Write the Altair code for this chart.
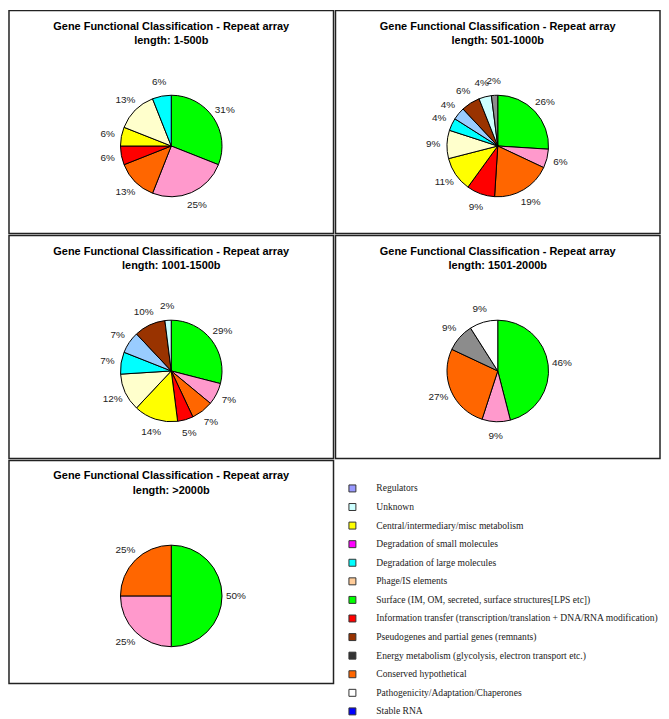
import altair as alt
import pandas as pd

# Slice categories and their pie colours
categories = ["Surface", "Degradation of small molecules", "Conserved hypothetical",
              "Information transfer", "Central metabolism", "Phage/IS elements",
              "Degradation of large molecules", "Regulators", "Pseudogenes",
              "Unknown", "Energy metabolism", "Pathogenicity"]
slice_colors = ["#00FF00", "#FF99CC", "#FF6600", "#FF0000", "#FFFF00", "#FFFFCC",
                "#00FFFF", "#99CCFF", "#993300", "#CCFFFF", "#8C8C8C", "#FFFFFF"]

title_line = "Gene Functional Classification - Repeat array"

p1_title = "length: 1-500b"
p1_cats = ["Surface", "Degradation of small molecules", "Conserved hypothetical",
           "Information transfer", "Central metabolism", "Phage/IS elements",
           "Degradation of large molecules"]
p1_vals = [31, 25, 13, 6, 6, 13, 6]

p2_title = "length: 501-1000b"
p2_cats = ["Surface", "Degradation of small molecules", "Conserved hypothetical",
           "Information transfer", "Central metabolism", "Phage/IS elements",
           "Degradation of large molecules", "Regulators", "Pseudogenes",
           "Unknown", "Energy metabolism"]
p2_vals = [26, 6, 19, 9, 11, 9, 4, 4, 6, 4, 2]

p3_title = "length: 1001-1500b"
p3_cats = ["Surface", "Degradation of small molecules", "Conserved hypothetical",
           "Information transfer", "Central metabolism", "Phage/IS elements",
           "Degradation of large molecules", "Regulators", "Pseudogenes", "Unknown"]
p3_vals = [29, 7, 7, 5, 14, 12, 7, 7, 10, 2]

p4_title = "length: 1501-2000b"
p4_cats = ["Surface", "Degradation of small molecules", "Conserved hypothetical",
           "Energy metabolism", "Pathogenicity"]
p4_vals = [46, 9, 27, 9, 9]

p5_title = "length: >2000b"
p5_cats = ["Surface", "Degradation of small molecules", "Conserved hypothetical"]
p5_vals = [50, 25, 25]

legend_labels = ["Regulators", "Unknown", "Central/intermediary/misc metabolism",
                 "Degradation of small molecules", "Degradation of large molecules",
                 "Phage/IS elements",
                 "Surface (IM, OM, secreted, surface structures[LPS etc])",
                 "Information transfer (transcription/translation + DNA/RNA modification)",
                 "Pseudogenes and partial genes (remnants)",
                 "Energy metabolism (glycolysis, electron transport etc.)",
                 "Conserved  hypothetical",
                 "Pathogenicity/Adaptation/Chaperones", "Stable RNA"]
legend_colors = ["#9999FF", "#CCFFFF", "#FFFF00", "#FF00FF", "#00FFFF", "#FFCC99",
                 "#00FF00", "#FF0000", "#993300", "#333333", "#FF6600", "#FFFFFF",
                 "#0000FF"]

W, H = 326, 224
CY = 136


def pie(subtitle, cats, vals):
    df = pd.DataFrame({"category": cats, "pct": vals, "idx": list(range(len(cats)))})
    df["label"] = df["pct"].astype(str) + "%"
    base = alt.Chart(df).encode(
        theta=alt.Theta("pct:Q", stack=True),
        order=alt.Order("idx:Q"),
    )
    arcs = base.mark_arc(outerRadius=51, stroke="black", strokeWidth=1).encode(
        color=alt.Color("category:N",
                        scale=alt.Scale(domain=categories, range=slice_colors),
                        legend=None),
        y=alt.value(CY),
    )
    labels = base.mark_text(radius=65, font="Liberation Sans", fontSize=10,
                            color="#222222").encode(
        text="label:N",
        y=alt.value(CY),
    )
    tdf = pd.DataFrame({"t": [title_line + "\n" + subtitle]})
    title = alt.Chart(tdf).mark_text(
        font="Liberation Sans", fontSize=11, fontWeight="bold", color="black",
        lineBreak="\n", lineHeight=15, baseline="middle", align="center",
    ).encode(text="t:N", x=alt.value(W / 2), y=alt.value(16))
    return alt.layer(arcs, labels, title).properties(width=W, height=H)


ldf = pd.DataFrame({"item": legend_labels})
lbase = alt.Chart(ldf).encode(
    y=alt.Y("item:N", sort=legend_labels, axis=None,
            scale=alt.Scale(type="point", range=[28, 252], padding=0)),
)
squares = lbase.mark_square(size=49, stroke="#333333", strokeWidth=1, opacity=1).encode(
    x=alt.value(17),
    fill=alt.Fill("item:N", scale=alt.Scale(domain=legend_labels, range=legend_colors),
                  legend=None),
)
texts = lbase.mark_text(align="left", font="Liberation Serif", fontSize=9.6,
                        color="#222222").encode(
    x=alt.value(41),
    text="item:N",
)
legend = alt.layer(squares, texts).properties(
    width=W - 6, height=H, view=alt.ViewBackground(stroke="transparent"))

row1 = alt.hconcat(pie(p1_title, p1_cats, p1_vals), pie(p2_title, p2_cats, p2_vals), spacing=0)
row2 = alt.hconcat(pie(p3_title, p3_cats, p3_vals), pie(p4_title, p4_cats, p4_vals), spacing=0)
row3 = alt.hconcat(pie(p5_title, p5_cats, p5_vals), legend, spacing=0)

chart = alt.vconcat(row1, row2, row3, spacing=0).properties(
    padding=0, background="white"
).configure_view(stroke="#222222", strokeWidth=1.5)

chart.save("out.html", embed_options={"renderer": "svg", "actions": False})
